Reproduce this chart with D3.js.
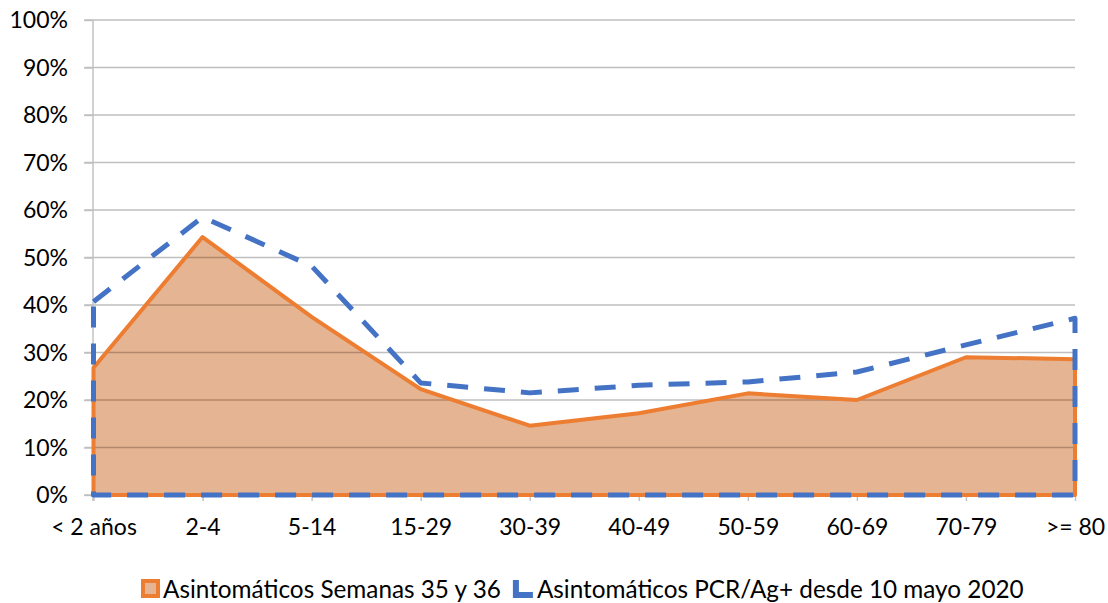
<!DOCTYPE html>
<html>
<head>
<meta charset="utf-8">
<script src="https://cdn.jsdelivr.net/npm/d3@7/dist/d3.min.js"></script>
<style>
  html, body { margin: 0; padding: 0; background: #fff; }
  svg { display: block; }
  text { font-family: Lato, "Open Sans", sans-serif; fill: #000; }
</style>
</head>
<body>
<svg id="chart" width="1108" height="603"></svg>
<script>
const categories = ["< 2 años", "2-4", "5-14", "15-29", "30-39", "40-49", "50-59", "60-69", "70-79", ">= 80"];
const semanas35y36 = [0.268, 0.543, 0.375, 0.223, 0.146, 0.172, 0.214, 0.200, 0.290, 0.286];
const desde10Mayo = [0.407, 0.585, 0.482, 0.236, 0.215, 0.231, 0.238, 0.259, 0.316, 0.372];
const yTicks = [0, 0.1, 0.2, 0.3, 0.4, 0.5, 0.6, 0.7, 0.8, 0.9, 1.0];
const seriesNames = ["Asintomáticos Semanas 35 y 36", "Asintomáticos PCR/Ag+ desde 10 mayo 2020"];

(function () {
const svg = d3.select("#chart");
const pLeft = 93.5, pRight = 1075, pTop = 20, pBottom = 495;
const fontSize = 23;
const legendFont = 24.3;

const x = d3.scalePoint().domain(categories).range([pLeft, pRight]);
const y = d3.scaleLinear().domain([0, 1]).range([pBottom, pTop]);

const gridColor = "#BFBFBF";

// gridlines
svg.append("g").selectAll("line").data(yTicks.slice(1)).join("line")
  .attr("x1", pLeft - 9).attr("x2", pRight)
  .attr("y1", d => y(d)).attr("y2", d => y(d))
  .attr("stroke", gridColor).attr("stroke-width", 1.4);

const orangeData = categories.map((c, i) => ({c, v: semanas35y36[i]}));
const blueData = categories.map((c, i) => ({c, v: desde10Mayo[i]}));

function closedOutline(data) {
  const pts = data.map(d => [x(d.c), y(d.v)]);
  const first = data[0].c, last = data[data.length - 1].c;
  return d3.line()([[x(first), y(0)]].concat(pts, [[x(last), y(0)], [x(first), y(0)]]));
}
function outlineFromTop(data) {
  const pts = data.map(d => [x(d.c), y(d.v)]);
  const first = data[0].c, last = data[data.length - 1].c;
  return d3.line()(pts.concat([[x(last), y(0)], [x(first), y(0)], [x(first), y(data[0].v)]]));
}

const area = d3.area().x(d => x(d.c)).y0(y(0)).y1(d => y(d.v));

// orange fill
svg.append("path").datum(orangeData).attr("d", area).attr("fill", "#E4B493");

// darker gridlines inside orange area
svg.append("clipPath").attr("id", "oclip")
  .append("path").datum(orangeData).attr("d", area);
svg.append("g").attr("clip-path", "url(#oclip)")
  .selectAll("line").data(yTicks.slice(1)).join("line")
  .attr("x1", pLeft).attr("x2", pRight)
  .attr("y1", d => y(d)).attr("y2", d => y(d))
  .attr("stroke", "#B3886A").attr("stroke-width", 1.6);

// y axis line
svg.append("line")
  .attr("x1", pLeft - 0.5).attr("x2", pLeft - 0.5)
  .attr("y1", pTop).attr("y2", pBottom + 6)
  .attr("stroke", gridColor).attr("stroke-width", 1.4);

// y axis labels
const yAxis = d3.axisLeft(y).tickValues(yTicks).tickFormat(d3.format(".0%"))
  .tickSize(9).tickPadding(16);
const gy = svg.append("g").attr("transform", `translate(${pLeft - 0.5},0)`).call(yAxis);
gy.select(".domain").remove();
gy.selectAll("line").attr("stroke", gridColor).attr("stroke-width", 1.4);
gy.selectAll("text").attr("font-size", fontSize).attr("font-family", "Lato, sans-serif")
  .attr("fill", "#000").attr("dy", "0.34em");

// x axis
const xAxis = d3.axisBottom(x).tickSize(6).tickPadding(18);
const gx = svg.append("g").attr("transform", `translate(0,${pBottom})`).call(xAxis);
gx.select(".domain").attr("d", `M${pLeft - 9},0H${pRight}`).attr("stroke", gridColor).attr("stroke-width", 1.4);
gx.selectAll("line").attr("stroke", gridColor).attr("stroke-width", 1.4);
gx.selectAll("text").attr("font-size", fontSize).attr("font-family", "Lato, sans-serif").attr("fill", "#000");

// orange outline
svg.append("path").datum(orangeData)
  .attr("d", d => closedOutline(d))
  .attr("fill", "none")
  .attr("stroke", "#ED7D31").attr("stroke-width", 4)
  .attr("stroke-linejoin", "round");

// blue dashed outline
svg.append("path").datum(blueData)
  .attr("d", d => outlineFromTop(d))
  .attr("fill", "none")
  .attr("stroke", "#4472C4").attr("stroke-width", 5)
  .attr("stroke-dasharray", "21,16")
  .attr("stroke-linejoin", "round");

// legend
const lg = svg.append("g");
lg.append("rect").attr("x", 143).attr("y", 581).attr("width", 15).attr("height", 15)
  .attr("fill", "#E4B493").attr("stroke", "#ED7D31").attr("stroke-width", 4);
const t1 = lg.append("text").attr("x", 163).attr("y", 598).attr("font-size", legendFont).text(seriesNames[0]);
const t1End = 163 + t1.node().getComputedTextLength();
const m2 = t1End + 12;
lg.append("path").attr("d", `M${m2 + 3},580V595H${m2 + 20}`)
  .attr("fill", "none").attr("stroke", "#4472C4").attr("stroke-width", 6);
lg.append("text").attr("x", m2 + 24).attr("y", 598).attr("font-size", legendFont).text(seriesNames[1]);
})();
</script>
</body>
</html>
